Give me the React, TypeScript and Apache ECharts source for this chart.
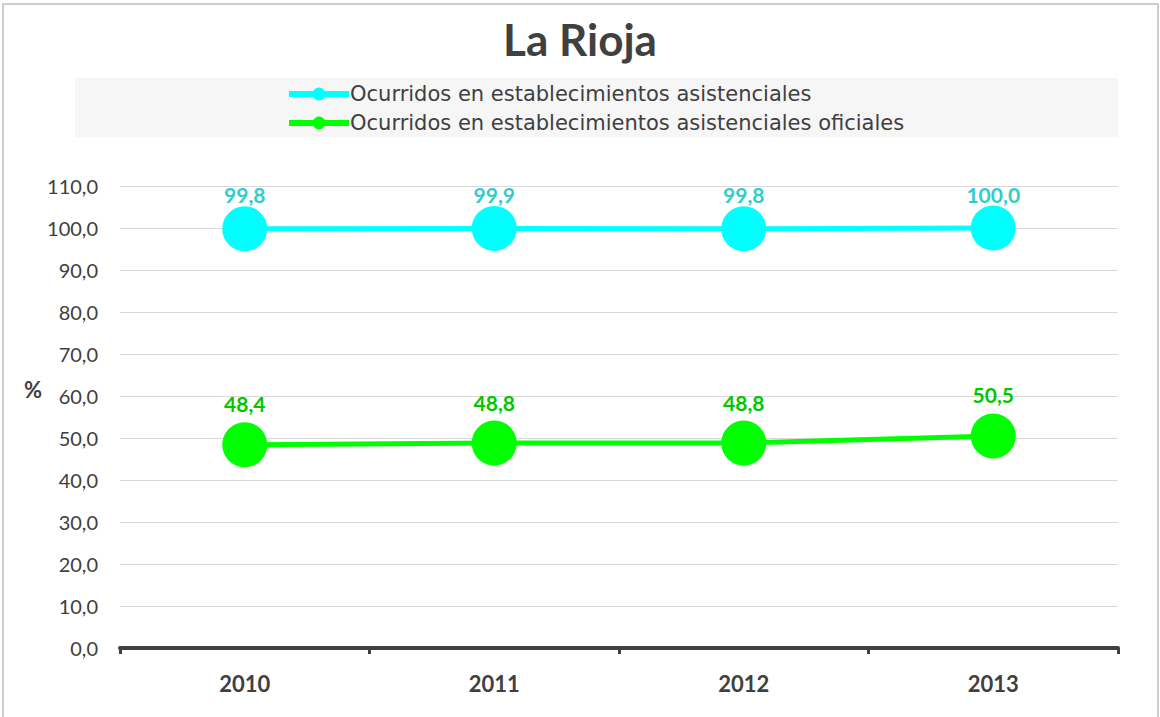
import React, { useEffect, useRef } from "react";
import * as echarts from "echarts";

const years = ["2010", "2011", "2012", "2013"];
const asistenciales = [99.8, 99.9, 99.8, 100.0];
const oficiales = [48.4, 48.8, 48.8, 50.5];
const seriesNames = [
  "Ocurridos en establecimientos asistenciales",
  "Ocurridos en establecimientos asistenciales oficiales",
];
const titleText = "La Rioja";
const yAxisName = "%";

const fmt = (v: number) => v.toFixed(1).replace(".", ",");
const FONT = "Lato, 'Liberation Sans', sans-serif";
const LEGEND_FONT = "'DejaVu Sans', 'Open Sans', sans-serif";

export default function App() {
  const ref = useRef<HTMLDivElement>(null);
  useEffect(() => {
    if (!ref.current) return;
    const chart = echarts.init(ref.current, undefined, { renderer: "svg" });
    chart.setOption({
      animation: false,
      backgroundColor: "#ffffff",
      textStyle: { fontFamily: FONT },
      title: {
        text: titleText,
        left: "center",
        top: 12,
        textStyle: { fontSize: 44, fontWeight: "bold", color: "#404040", fontFamily: FONT },
      },
      graphic: [
        {
          type: "rect",
          shape: { x: 3, y: 4, width: 1155, height: 720 },
          style: { fill: "none", stroke: "#bfbfbf", lineWidth: 1.5 },
          silent: true,
          z: -10,
        },
        {
          type: "rect",
          shape: { x: 75, y: 78, width: 1043, height: 59 },
          style: { fill: "#f6f6f6" },
          silent: true,
          z: -5,
        },
        {
          type: "text",
          x: 33,
          y: 389,
          style: {
            text: yAxisName,
            fontSize: 22,
            fontWeight: "bold",
            fill: "#404040",
            fontFamily: FONT,
            align: "center",
            verticalAlign: "middle",
          },
        },
      ],
      legend: {
        orient: "vertical",
        left: 286,
        top: 83,
        padding: 0,
        itemWidth: 60,
        itemHeight: 16,
        itemGap: 7,
        lineStyle: { width: 6 },
        textStyle: {
          fontSize: 21,
          lineHeight: 22,
          color: "#404040",
          fontFamily: LEGEND_FONT,
          padding: [0, 0, 0, -4],
        },
        data: seriesNames,
      },
      grid: { left: 120, right: 42, top: 186, bottom: 69, containLabel: false },
      xAxis: {
        type: "category",
        data: years,
        boundaryGap: true,
        axisLine: { lineStyle: { color: "#404040", width: 4 } },
        axisTick: { show: true, length: 6, lineStyle: { color: "#404040", width: 3 } },
        axisLabel: { fontSize: 22, fontWeight: "bold", color: "#404040", margin: 24, fontFamily: FONT },
        splitLine: { show: false },
      },
      yAxis: {
        type: "value",
        min: 0,
        max: 110,
        interval: 10,
        axisLine: { show: false },
        axisTick: { show: false },
        axisLabel: {
          fontSize: 20,
          color: "#404040",
          margin: 22,
          fontFamily: FONT,
          formatter: (v: number) => fmt(v),
        },
        splitLine: { lineStyle: { color: "#d9d9d9", width: 1 } },
      },
      series: [
        {
          name: seriesNames[0],
          type: "line",
          data: asistenciales,
          symbol: "circle",
          symbolSize: 45,
          lineStyle: { color: "#00ffff", width: 5 },
          itemStyle: { color: "#00ffff" },
          label: {
            show: true,
            position: "top",
            distance: 1,
            fontSize: 21,
            fontWeight: "bold",
            color: "#33cccc",
            fontFamily: FONT,
            formatter: (p: any) => fmt(p.value),
          },
        },
        {
          name: seriesNames[1],
          type: "line",
          data: oficiales,
          symbol: "circle",
          symbolSize: 45,
          lineStyle: { color: "#00ff00", width: 5 },
          itemStyle: { color: "#00ff00" },
          label: {
            show: true,
            position: "top",
            distance: 8,
            fontSize: 21,
            fontWeight: "bold",
            color: "#00c800",
            fontFamily: FONT,
            formatter: (p: any) => fmt(p.value),
          },
        },
      ],
    });
    return () => chart.dispose();
  }, []);
  return (
    <div
      ref={ref}
      style={{ position: "absolute", left: 0, top: 0, width: 1160, height: 717 }}
    />
  );
}
